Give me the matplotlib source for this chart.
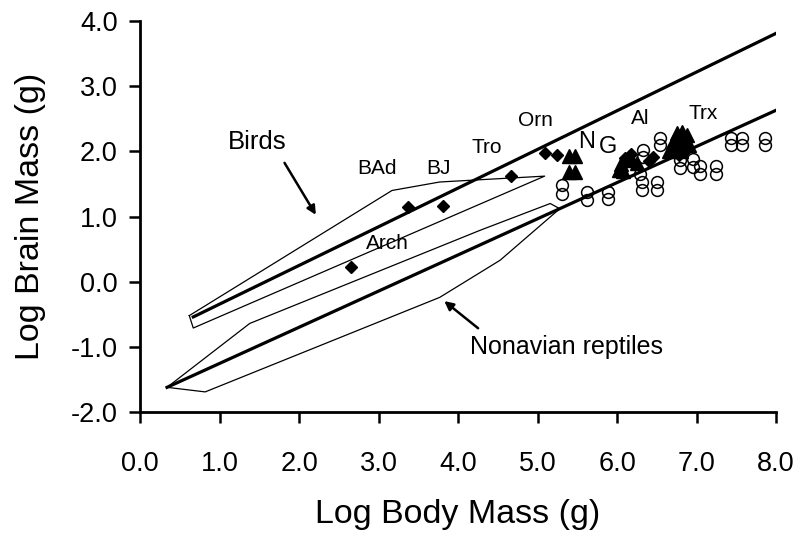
import matplotlib
matplotlib.use("Agg")
import matplotlib.pyplot as plt

plt.rcParams['font.family'] = ['Liberation Sans', 'DejaVu Sans']

# regression lines (log body mass, log brain mass)
bird_line_x = [0.67, 8.0]
bird_line_y = [-0.54, 3.81]
rept_line_x = [0.34, 8.0]
rept_line_y = [-1.62, 2.63]

# envelopes (minimum convex polygons)
bird_poly_x = [0.62, 3.17, 3.77, 5.09, 0.67, 0.62]
bird_poly_y = [-0.52, 1.40, 1.53, 1.62, -0.71, -0.52]
rept_poly_x = [0.34, 1.38, 4.28, 5.16, 5.28, 4.53, 3.77, 0.82, 0.34]
rept_poly_y = [-1.62, -0.64, 0.79, 1.20, 1.12, 0.33, -0.24, -1.69, -1.62]

# fossil birds / maniraptorans (diamonds)
dia_x = [2.65, 3.37, 3.81, 4.67, 5.10, 5.25, 6.10, 6.18, 6.22, 6.40, 6.45,
         6.72, 6.80, 6.85, 6.78]
dia_y = [0.22, 1.14, 1.16, 1.62, 1.97, 1.95, 1.90, 1.96, 1.80, 1.85, 1.92,
         2.05, 2.15, 2.00, 1.95]

# other theropods (triangles)
tri_x = [5.40, 5.47, 5.40, 5.47, 6.02, 6.05, 6.10, 6.15, 6.08, 6.25,
         6.70, 6.75, 6.82, 6.88, 6.72, 6.80, 6.90, 6.65, 6.78]
tri_y = [1.93, 1.93, 1.68, 1.68, 1.72, 1.80, 1.86, 1.92, 1.70, 1.82,
         2.15, 2.28, 2.30, 2.25, 2.05, 2.00, 2.10, 2.00, 2.12]

# nonavian reptiles (open circles)
circ_x = [5.31, 5.31, 5.62, 5.62, 5.89, 5.89, 6.33, 6.33, 6.29, 6.31, 6.31,
          6.50, 6.50, 6.54, 6.54, 6.79, 6.79, 6.96, 6.96, 7.04, 7.04,
          7.25, 7.25, 7.43, 7.43, 7.57, 7.57, 7.86, 7.86]
circ_y = [1.48, 1.35, 1.37, 1.25, 1.37, 1.27, 2.02, 1.91, 1.66, 1.53, 1.40,
          1.53, 1.40, 2.21, 2.09, 1.86, 1.74, 1.89, 1.76, 1.78, 1.66,
          1.78, 1.66, 2.21, 2.09, 2.21, 2.09, 2.21, 2.09]

# point labels
lab_text = ['BAd', 'BJ', 'Tro', 'Orn', 'N', 'G', 'Al', 'Trx', 'Arch']
lab_x = [2.98, 3.75, 4.36, 4.97, 5.62, 5.89, 6.29, 7.08, 3.11]
lab_y = [1.74, 1.74, 2.06, 2.48, 2.15, 2.06, 2.51, 2.58, 0.59]

fig = plt.figure(figsize=(8, 5.38), dpi=100)
ax = fig.add_axes([0.175, 0.234, 0.795, 0.727])

ax.plot(bird_poly_x, bird_poly_y, color='black', lw=0.9)
ax.plot(rept_poly_x, rept_poly_y, color='black', lw=0.9)
ax.plot(bird_line_x, bird_line_y, color='black', lw=2.3)
ax.plot(rept_line_x, rept_line_y, color='black', lw=2.3)

ax.plot(circ_x, circ_y, 'o', ms=8.5, mfc='none', mec='black', mew=1.1)
ax.plot(tri_x, tri_y, '^', ms=10, color='black')
ax.plot(dia_x, dia_y, 'D', ms=6.5, color='black')

for t, x, y in zip(lab_text, lab_x, lab_y):
    fs = 17 if t in ('N', 'G') else 15
    ax.text(x, y, t, fontsize=fs, ha='center', va='center')

ax.text(1.47, 2.14, 'Birds', fontsize=18.5, ha='center', va='center')
ax.annotate('', xy=(2.23, 0.99), xytext=(1.80, 1.86),
            arrowprops=dict(arrowstyle='-|>', color='black', lw=1.8,
                            mutation_scale=13))
ax.text(4.15, -1.0, 'Nonavian reptiles', fontsize=18, ha='left', va='center')
ax.annotate('', xy=(3.80, -0.27), xytext=(4.28, -0.74),
            arrowprops=dict(arrowstyle='-|>', color='black', lw=1.8,
                            mutation_scale=13))

ax.set_xlim(0, 8)
ax.set_ylim(-2, 4)
ax.set_xticks([0, 1, 2, 3, 4, 5, 6, 7, 8])
ax.set_yticks([-2, -1, 0, 1, 2, 3, 4])
ax.set_xticklabels(['%.1f' % v for v in range(9)])
ax.set_yticklabels(['%.1f' % v for v in range(-2, 5)])
ax.spines['top'].set_visible(False)
ax.spines['right'].set_visible(False)
ax.spines['left'].set_linewidth(2.0)
ax.spines['bottom'].set_linewidth(2.0)
ax.tick_params(axis='both', direction='out', length=8, width=1.8,
               labelsize=19.5)
ax.tick_params(axis='x', pad=20)
ax.tick_params(axis='y', pad=8)
ax.set_xlabel('Log Body Mass (g)', fontsize=24.5, labelpad=16)
ax.set_ylabel('Log Brain Mass (g)', fontsize=24.5, labelpad=18)

fig.savefig('out.png', dpi=100)
